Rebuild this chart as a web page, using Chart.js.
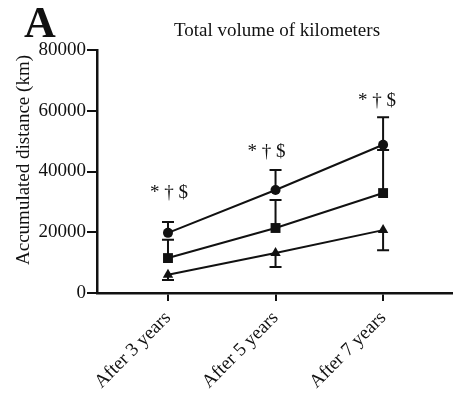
<!DOCTYPE html>
<html>
<head>
<meta charset="utf-8">
<script src="https://cdn.jsdelivr.net/npm/chart.js@4"></script>
<style>
  html, body { margin: 0; padding: 0; background: #fff; }
  #volChart { display: block; }
</style>
</head>
<body>
<canvas id="volChart" width="453" height="398"></canvas>
<script>
// time points
const periods = ['After 3 years', 'After 5 years', 'After 7 years'];

// mean accumulated distance (km) per group, with one-sided SD
const circleMeans = [19800, 33900, 48800];
const circleSd = [3600, 6600, 9100];
const squareMeans = [11500, 21400, 32900];
const squareSd = [6000, 9200, 14200];
const triangleMeans = [6000, 13200, 20700];
const triangleSd = [1700, 4600, 6600];

const yTicks = [0, 20000, 40000, 60000, 80000];
const sigLabels = ['* \u2020 $', '* \u2020 $', '* \u2020 $'];

const serif = '"Liberation Serif", "Times New Roman", serif';
const ink = '#111';

function toPoints(values) {
    return values.map((v, i) => ({ x: i, y: v }));
}

// error bars: dir 1 = upward, -1 = downward
const errorBars = [
    { means: circleMeans, sd: circleSd, dir: 1 },
    { means: squareMeans, sd: squareSd, dir: 1 },
    { means: triangleMeans, sd: triangleSd, dir: -1 }
];

const errorBarPlugin = {
    id: 'errorBars',
    beforeDatasetsDraw(chart) {
        const { ctx, scales: { x, y } } = chart;
        ctx.save();
        ctx.strokeStyle = ink;
        ctx.lineWidth = 2;
        errorBars.forEach(set => {
            set.means.forEach((m, i) => {
                const px = x.getPixelForValue(i);
                const y0 = y.getPixelForValue(m);
                const y1 = y.getPixelForValue(m + set.dir * set.sd[i]);
                ctx.beginPath();
                ctx.moveTo(px, y0);
                ctx.lineTo(px, y1);
                ctx.moveTo(px - 6, y1);
                ctx.lineTo(px + 6, y1);
                ctx.stroke();
            });
        });
        ctx.restore();
    }
};

// panel letter, title, axis title and significance marks
const textPlugin = {
    id: 'panelText',
    afterDraw(chart) {
        const { ctx, scales: { x, y } } = chart;
        ctx.save();
        ctx.fillStyle = ink;

        ctx.font = 'bold 44px ' + serif;
        ctx.textAlign = 'left';
        ctx.textBaseline = 'alphabetic';
        ctx.fillText('A', 24, 37);

        ctx.font = '19px ' + serif;
        ctx.textAlign = 'center';
        ctx.fillText('Total volume of kilometers', 277, 36);

        ctx.save();
        ctx.translate(29, 160);
        ctx.rotate(-Math.PI / 2);
        ctx.fillText('Accumulated distance (km)', 0, 0);
        ctx.restore();

        // marks sit above the highest error bar of each time point
        const lift = [30, 19, 17];
        const shift = [1, -9, -6];
        sigLabels.forEach((txt, i) => {
            const top = circleMeans[i] + circleSd[i];
            ctx.fillText(txt, x.getPixelForValue(i) + shift[i], y.getPixelForValue(top) - lift[i] + 6);
        });
        ctx.restore();
    }
};

const lineStyle = {
    borderColor: ink,
    backgroundColor: ink,
    borderWidth: 2,
    pointBorderWidth: 0,
    tension: 0
};

new Chart(document.getElementById('volChart'), {
    type: 'line',
    data: {
        datasets: [
            { ...lineStyle, label: 'circle', data: toPoints(circleMeans), pointStyle: 'circle', pointRadius: 5 },
            { ...lineStyle, label: 'square', data: toPoints(squareMeans), pointStyle: 'rect', pointRadius: 7 },
            { ...lineStyle, label: 'triangle', data: toPoints(triangleMeans), pointStyle: 'triangle', pointRadius: 6 }
        ]
    },
    options: {
        responsive: false,
        animation: false,
        layout: { autoPadding: false, padding: { top: 50, left: 0, right: 0, bottom: 0 } },
        plugins: {
            legend: { display: false },
            tooltip: { enabled: false }
        },
        scales: {
            x: {
                type: 'linear',
                min: -0.66,
                max: 2.65,
                afterBuildTicks(scale) {
                    scale.ticks = periods.map((p, i) => ({ value: i }));
                },
                afterFit(scale) {
                    scale.height = 105;
                    scale.paddingLeft = 0;
                    scale.paddingRight = 0;
                },
                ticks: {
                    autoSkip: false,
                    minRotation: 45,
                    maxRotation: 45,
                    padding: 6,
                    color: ink,
                    font: { family: serif, size: 19 },
                    callback: v => periods[v]
                },
                grid: { drawOnChartArea: false, drawTicks: true, tickLength: 8, color: ink, lineWidth: 2 },
                border: { display: true, color: ink, width: 2.5 }
            },
            y: {
                min: 0,
                max: 80000,
                afterBuildTicks(scale) {
                    scale.ticks = yTicks.map(v => ({ value: v }));
                },
                afterFit(scale) {
                    scale.width = 97;
                    scale.paddingTop = 0;
                    scale.paddingBottom = 0;
                },
                ticks: {
                    padding: 1,
                    color: ink,
                    font: { family: serif, size: 19 },
                    callback: v => String(v)
                },
                grid: { drawOnChartArea: false, drawTicks: true, tickLength: 10, color: ink, lineWidth: 2 },
                border: { display: true, color: ink, width: 2.5 }
            }
        }
    },
    plugins: [errorBarPlugin, textPlugin]
});
</script>
</body>
</html>
